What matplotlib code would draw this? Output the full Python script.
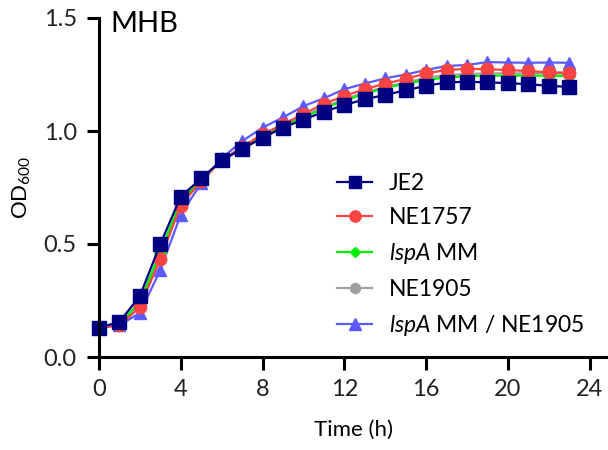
import matplotlib
matplotlib.use("Agg")
import matplotlib.pyplot as plt

plt.rcParams["font.family"] = ["Lato", "DejaVu Sans"]
plt.rcParams["mathtext.fontset"] = "custom"
plt.rcParams["mathtext.rm"] = "Lato"
plt.rcParams["mathtext.it"] = "Lato:italic"

# growth curves in MHB, OD600 read hourly
hours = list(range(24))
je2 = [0.13, 0.155, 0.27, 0.50, 0.71, 0.79, 0.87, 0.92, 0.97, 1.015, 1.05, 1.085,
       1.115, 1.14, 1.16, 1.18, 1.20, 1.215, 1.218, 1.215, 1.212, 1.207, 1.20, 1.195]
ne1757 = [0.13, 0.14, 0.22, 0.435, 0.67, 0.78, 0.87, 0.93, 0.985, 1.03, 1.075, 1.12,
          1.155, 1.185, 1.21, 1.23, 1.255, 1.27, 1.275, 1.273, 1.27, 1.265, 1.26, 1.258]
lspa_mm = [0.13, 0.145, 0.245, 0.465, 0.69, 0.785, 0.87, 0.925, 0.975, 1.02, 1.06, 1.10,
           1.135, 1.165, 1.19, 1.21, 1.225, 1.238, 1.242, 1.245, 1.245, 1.245, 1.245, 1.243]
ne1905 = [0.13, 0.145, 0.235, 0.455, 0.68, 0.78, 0.87, 0.925, 0.98, 1.025, 1.065, 1.105,
          1.14, 1.17, 1.195, 1.215, 1.235, 1.248, 1.252, 1.255, 1.255, 1.255, 1.255, 1.253]
lspa_ne1905 = [0.13, 0.14, 0.195, 0.385, 0.63, 0.77, 0.88, 0.955, 1.015, 1.06, 1.11, 1.145,
               1.185, 1.21, 1.233, 1.25, 1.27, 1.288, 1.292, 1.305, 1.303, 1.302, 1.303, 1.302]

labels = ["JE2", "NE1757", r"$\mathit{lspA}$ MM", "NE1905", r"$\mathit{lspA}$ MM / NE1905"]
x_ticks = [0, 4, 8, 12, 16, 20, 24]
y_ticks = [0.0, 0.5, 1.0, 1.5]

fig = plt.figure(figsize=(6.08, 4.5), dpi=100)
ax = fig.add_axes([99 / 608, 93 / 450, 509 / 608, 339 / 450])

series = [
    (je2, "#000080", "s", 10),
    (ne1757, "#f94444", "o", 9),
    (lspa_mm, "#00ee00", "D", 6),
    (ne1905, "#a0a0a0", "o", 8),
    (lspa_ne1905, "#5a5aff", "^", 9),
]
# draw back to front so JE2 ends on top
for (vals, col, mk, ms), lab in reversed(list(zip(series, labels))):
    ax.plot(hours, vals, color=col, marker=mk, markersize=ms, linewidth=1.6,
            label=lab, clip_on=False)

ax.set_xlim(0, 24.9)
ax.set_ylim(0, 1.5)
ax.set_xticks(x_ticks)
ax.set_yticks(y_ticks)
ax.set_yticklabels(["0.0", "0.5", "1.0", "1.5"])
ax.spines["top"].set_visible(False)
ax.spines["right"].set_visible(False)
for s in ("left", "bottom"):
    ax.spines[s].set_linewidth(2.2)
ax.tick_params(width=2.2, length=9, labelsize=17, pad=7, labelcolor="#222222")

ax.set_xlabel("Time (h)", fontsize=16, labelpad=14)
ax.set_ylabel(r"OD$_{\mathrm{600}}$", fontsize=16, labelpad=8)
ax.text(0.022, 1.02, "MHB", transform=ax.transAxes, fontsize=21, va="top", ha="left")

handles, labs = ax.get_legend_handles_labels()
ax.legend(handles[::-1], labs[::-1], loc="lower left", bbox_to_anchor=(0.428, -0.004),
          frameon=False, fontsize=16.5, handlelength=1.5, handletextpad=0.75,
          labelspacing=0.56, markerscale=0.9)

fig.savefig("out.png", dpi=100)
